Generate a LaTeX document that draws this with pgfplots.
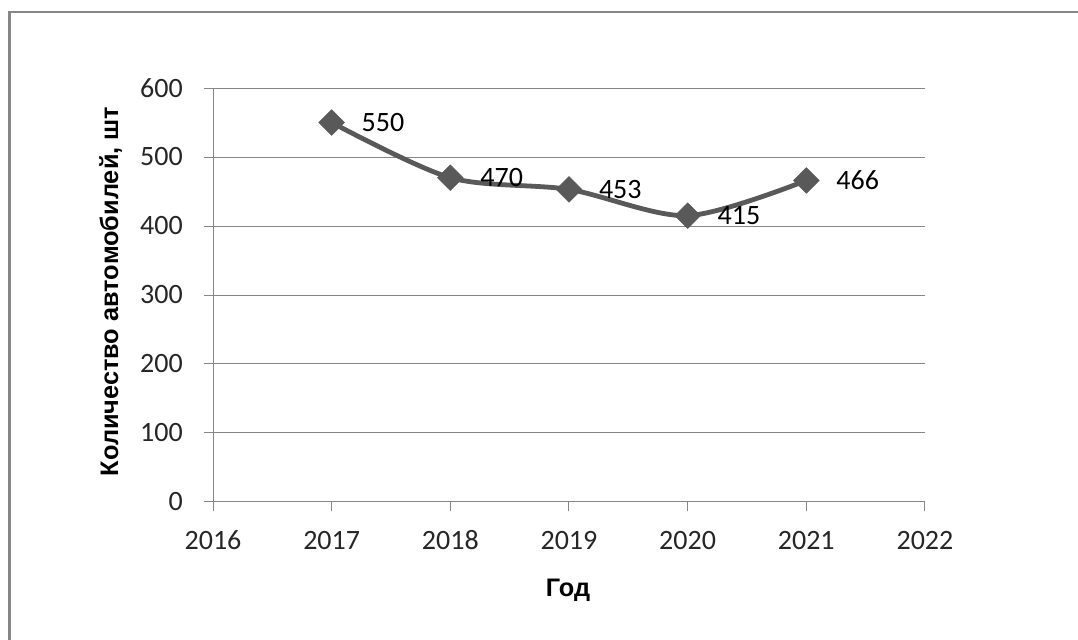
\documentclass[border=0pt]{standalone}
\usepackage{pgfplots}
\pgfplotsset{compat=1.18}
\usepackage{fontspec}
\setmainfont{Carlito}
\newfontfamily\titlefont{Liberation Sans}

\definecolor{gridgray}{HTML}{868686}
\definecolor{linegray}{HTML}{595959}
\definecolor{textgray}{HTML}{262626}

\newcommand{\chartfont}{\fontsize{21}{25}\selectfont}
\newcommand{\axtitlefont}{\titlefont\bfseries\fontsize{19}{23}\selectfont}

\begin{document}
\begin{tikzpicture}
% page area and chart frame
\useasboundingbox (0,0) rectangle (808.5pt,479.25pt);
\fill[white] (0,0) rectangle (808.5pt,479.25pt);
\draw[gridgray, line width=1.6pt] (7.1pt,-3pt) -- (7.1pt,470.25pt) -- (812pt,470.25pt);

\begin{axis}[
  at={(159.75pt,102.75pt)}, anchor=south west,
  scale only axis, width=534pt, height=310.5pt,
  xmin=2016, xmax=2022, ymin=0, ymax=600,
  xtick={2016,2017,...,2022},
  ytick={0,100,...,600},
  axis x line*=bottom, axis y line*=left,
  ymajorgrids,
  grid style={gridgray, line width=0.75pt},
  axis line style={gridgray, line width=0.75pt},
  tick style={gridgray, line width=0.75pt},
  tick align=outside, major tick length=7pt,
  ticklabel style={font=\chartfont, text=textgray},
  xticklabel style={anchor=north, text height=0.63em, text depth=0pt, inner sep=0pt, yshift=-22.5pt},
  yticklabel style={anchor=east, inner sep=0pt, xshift=-15.5pt},
  /pgf/number format/assume math mode=true,
  /pgf/number format/1000 sep={},
  clip=false,
]
\addplot[linegray, line width=3.6pt, smooth,
  mark=square*, mark size=6.8pt,
  mark options={rotate=45, line width=0.4pt, fill=linegray, draw=linegray},
  nodes near coords,
  every node near coord/.style={anchor=west, xshift=19pt, font=\chartfont, text=black}
] coordinates {
  (2017,550) (2018,470) (2019,453) (2020,415) (2021,466)
};
\end{axis}

% axis titles
\node[rotate=90, anchor=base, font=\axtitlefont, text=black] at (88.5pt,260.6pt) {Количество автомобилей, шт};
\node[anchor=base, font=\axtitlefont, text=black] at (426pt,31.5pt) {Год};
\end{tikzpicture}
\end{document}
